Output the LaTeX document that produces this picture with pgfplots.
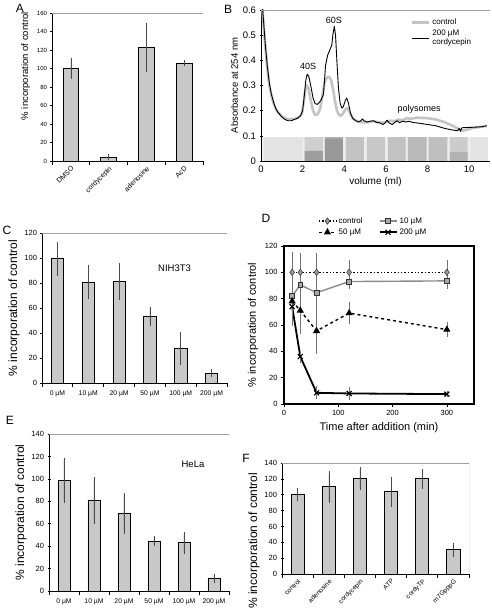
\documentclass[border=0pt]{standalone}
\usepackage{fontspec}
\setmainfont{Liberation Sans}
\usepackage{pgfplots}
\pgfplotsset{compat=1.18}
\definecolor{barfill}{HTML}{C8C8C8}
\definecolor{ebar}{HTML}{4A4A4A}
\definecolor{frame}{HTML}{A0A0A0}
\definecolor{ctrlgray}{HTML}{C4C4C4}
\definecolor{tenline}{HTML}{8C8C8C}
\definecolor{tenfill}{HTML}{A8A8A8}
\pgfplotsset{
  bp/.style={
    scale only axis,
    axis x line*=bottom, axis y line*=left,
    axis line style={-, line width=0.9pt, black},
    ymin=0, xmin=-0.5, xmax=5.5,
    xtick={0,1,2,3,4,5},
    minor xtick={-0.5,0.5,1.5,2.5,3.5,4.5,5.5},
    major x tick style={draw=none},
    minor x tick style={black, line width=0.7pt},
    major y tick style={black, line width=0.6pt},
    tick align=center,
    major tick length=3pt, minor tick length=4pt,
    /pgf/number format/assume math mode=true,
    ybar, bar width=0.4,
  },
  barst/.style={fill=barfill, draw=black, line width=0.8pt,
     error bars/.cd, y dir=both, y explicit,
     error bar style={ebar, line width=0.5pt},
     error mark options={ebar, mark size=2pt, line width=0.5pt}},
}
\begin{document}
\begin{tikzpicture}
\useasboundingbox (0,0) rectangle (492pt,613pt);
% ---------------- A
\begin{axis}[bp, at={(52pt,452pt)}, anchor=south west, width=151pt, height=148pt,
  xmin=-0.5, xmax=3.5, ymax=160, ytick={0,20,...,160}, bar width=0.42,
  xtick={0,1,2,3}, minor xtick={-0.5,0.5,1.5,2.5,3.5},
  xticklabels={DMSO,cordycepin,adenosine,AcD},
  xticklabel style={rotate=45, anchor=north east, font=\fontsize{7}{8}\selectfont, inner sep=1pt},
  yticklabel style={font=\fontsize{6}{7}\selectfont},
  ylabel={\% incorporation of control},
  ylabel style={font=\fontsize{9.5}{10}\selectfont, at={(ticklabel cs:0.64)}}]
\addplot[barst] coordinates {(0,100) +- (0,9) (1,4) +- (0,1) (2,123) +- (0,24.5) (3,106) +- (0,1.5)};
\draw[frame, line width=0.8pt] (rel axis cs:0,1) -- (rel axis cs:1,1) -- (rel axis cs:1,0);
\end{axis}
% ---------------- B
\begin{axis}[scale only axis, at={(261pt,452pt)}, anchor=south west, width=229pt, height=151pt,
  xmin=0, xmax=11, ymin=0, ymax=0.6,
  axis x line*=bottom, axis y line*=left, axis line style={-, line width=0.9pt, black},
  tick align=center, major tick length=3pt, tick style={black, line width=0.6pt},
  xtick={0,2,4,6,8,10}, ytick={0,0.1,0.2,0.3,0.4,0.5,0.6},
  /pgf/number format/assume math mode=true,
  yticklabel style={/pgf/number format/.cd, fixed, precision=1},
  ticklabel style={font=\fontsize{9.5}{10}\selectfont},
  xlabel={volume (ml)}, xlabel style={font=\fontsize{10}{11}\selectfont, yshift=2pt},
  ylabel={Absorbance at 254 nm}, ylabel style={font=\fontsize{9.5}{10}\selectfont, yshift=-2pt},
  legend style={at={(0.64,0.97)}, anchor=north west, draw=none, fill=none,
    font=\fontsize{8}{9}\selectfont, cells={align=left}},
  legend cell align=left]
% gel strip
\addplot[fill=black!7, draw=none, forget plot] coordinates {(0.05,0) (0.05,0.095) (10.9,0.095) (10.9,0)} \closedcycle;
\addplot[fill=black!11, draw=none, forget plot] coordinates {(0.15,0) (0.15,0.095) (2.0,0.095) (2.0,0)} \closedcycle;
\addplot[fill=black!19, draw=none, forget plot] coordinates {(2.1,0) (2.1,0.095) (2.97,0.095) (2.97,0)} \closedcycle;
\addplot[fill=black!38, draw=none, forget plot] coordinates {(2.1,0.005) (2.1,0.04) (2.97,0.04) (2.97,0.005)} \closedcycle;
\addplot[fill=black!32, draw=none, forget plot] coordinates {(3.07,0) (3.07,0.095) (3.93,0.095) (3.93,0)} \closedcycle;
\addplot[fill=black!40, draw=none, forget plot] coordinates {(3.07,0.06) (3.07,0.088) (3.93,0.088) (3.93,0.06)} \closedcycle;
\addplot[fill=black!24, draw=none, forget plot] coordinates {(4.08,0) (4.08,0.095) (4.94,0.095) (4.94,0)} \closedcycle;
\addplot[fill=black!22, draw=none, forget plot] coordinates {(5.08,0) (5.08,0.095) (5.95,0.095) (5.95,0)} \closedcycle;
\addplot[fill=black!24, draw=none, forget plot] coordinates {(6.1,0) (6.1,0.095) (6.95,0.095) (6.95,0)} \closedcycle;
\addplot[fill=black!27, draw=none, forget plot] coordinates {(7.05,0) (7.05,0.095) (7.95,0.095) (7.95,0)} \closedcycle;
\addplot[fill=black!25, draw=none, forget plot] coordinates {(8.05,0) (8.05,0.095) (8.95,0.095) (8.95,0)} \closedcycle;
\addplot[fill=black!20, draw=none, forget plot] coordinates {(9.07,0) (9.07,0.095) (9.93,0.095) (9.93,0)} \closedcycle;
\addplot[fill=black!30, draw=none, forget plot] coordinates {(9.07,0.02) (9.07,0.035) (9.93,0.035) (9.93,0.02)} \closedcycle;
\addplot[fill=black!11, draw=none, forget plot] coordinates {(10.07,0) (10.07,0.095) (10.9,0.095) (10.9,0)} \closedcycle;
% curves
\addplot[ctrlgray, line width=2.6pt, line join=round] coordinates {
(0.03,0.66) (0.1,0.57) (0.2,0.46) (0.3,0.37) (0.4,0.3) (0.5,0.26) (0.6,0.23) (0.7,0.21) (0.8,0.195) (1.0,0.178) (1.2,0.168) (1.4,0.165) (1.6,0.167) (1.8,0.172) (1.95,0.185) (2.05,0.23) (2.12,0.28) (2.2,0.3) (2.28,0.29) (2.38,0.245) (2.5,0.2) (2.6,0.183) (2.72,0.185) (2.85,0.21) (2.95,0.26) (3.05,0.31) (3.15,0.33) (3.25,0.335) (3.35,0.325) (3.45,0.29) (3.55,0.24) (3.65,0.2) (3.75,0.183) (3.85,0.18) (3.95,0.19) (4.05,0.205) (4.15,0.21) (4.25,0.195) (4.4,0.17) (4.6,0.158) (4.8,0.155) (5.0,0.153) (5.2,0.155) (5.4,0.158) (5.6,0.155) (5.8,0.152) (6.0,0.155) (6.2,0.16) (6.4,0.158) (6.6,0.165) (6.8,0.162) (7.0,0.17) (7.2,0.168) (7.5,0.172) (8.0,0.17) (8.4,0.165) (8.8,0.155) (9.2,0.14) (9.5,0.127) (9.7,0.12) (9.9,0.125) (10.2,0.132) (10.6,0.136) (10.85,0.14)};
\addlegendentry{control}
\addplot[black, line width=0.9pt, line join=round] coordinates {
(0.03,0.66) (0.1,0.58) (0.2,0.47) (0.3,0.38) (0.4,0.31) (0.5,0.265) (0.6,0.235) (0.7,0.21) (0.8,0.195) (0.9,0.185) (1.0,0.175) (1.15,0.165) (1.3,0.16) (1.45,0.16) (1.6,0.165) (1.75,0.17) (1.9,0.18) (2.0,0.2) (2.08,0.26) (2.15,0.32) (2.22,0.345) (2.3,0.335) (2.4,0.295) (2.5,0.25) (2.6,0.228) (2.7,0.225) (2.8,0.232) (2.9,0.245) (3.0,0.265) (3.05,0.32) (3.1,0.38) (3.2,0.42) (3.3,0.44) (3.4,0.46) (3.45,0.5) (3.52,0.535) (3.58,0.5) (3.65,0.39) (3.72,0.29) (3.8,0.23) (3.88,0.21) (3.95,0.215) (4.05,0.24) (4.12,0.25) (4.2,0.23) (4.3,0.19) (4.4,0.17) (4.55,0.16) (4.7,0.155) (4.8,0.16) (4.87,0.167) (4.95,0.16) (5.1,0.155) (5.25,0.158) (5.4,0.16) (5.55,0.153) (5.7,0.152) (5.85,0.145) (5.95,0.15) (6.05,0.162) (6.15,0.152) (6.3,0.145) (6.45,0.155) (6.55,0.16) (6.65,0.152) (6.8,0.158) (6.95,0.155) (7.1,0.158) (7.3,0.153) (7.6,0.15) (8.0,0.145) (8.4,0.14) (8.8,0.13) (9.2,0.123) (9.45,0.12) (9.52,0.13) (9.58,0.118) (9.65,0.132) (9.8,0.133) (10.2,0.134) (10.6,0.136) (10.85,0.14)};
\addlegendentry{200 µM\\cordycepin}
\node[font=\fontsize{9}{10}\selectfont] at (axis cs:2.26,0.375) {40S};
\node[font=\fontsize{9}{10}\selectfont] at (axis cs:3.5,0.56) {60S};
\node[font=\fontsize{9}{10}\selectfont] at (axis cs:7.6,0.205) {polysomes};
\draw[frame, line width=0.8pt] (rel axis cs:0,1) -- (rel axis cs:1,1);
\end{axis}
% ---------------- C
\begin{axis}[bp, at={(42pt,230pt)}, anchor=south west, width=185pt, height=150pt,
  ymax=120, ytick={0,20,...,120}, bar width=0.4,
  xticklabels={0 µM,10 µM,20 µM,50 µM,100 µM,200 µM},
  xticklabel style={font=\fontsize{6.8}{7}\selectfont, yshift=-1pt},
  yticklabel style={font=\fontsize{7.5}{8}\selectfont},
  ylabel={\% incorporation of control},
  ylabel style={font=\fontsize{12}{13}\selectfont, yshift=-2pt}]
\addplot[barst] coordinates {(0,100) += (0,11) -= (0,13) (1,80.5) +- (0,12) (2,81) += (0,13) -= (0,13) (3,53) +- (0,6) (4,27.5) +- (0,11.5) (5,8) +- (0,1.5)};
\node[font=\fontsize{9.5}{10}\selectfont] at (axis cs:3.8,92) {NIH3T3};
\draw[frame, line width=0.8pt] (rel axis cs:0,1) -- (rel axis cs:1,1) -- (rel axis cs:1,0);
\end{axis}
% ---------------- D
\begin{axis}[scale only axis, at={(284pt,209pt)}, anchor=south west, width=190pt, height=158pt,
  xmin=0, xmax=350, ymin=0, ymax=120, xtick={0,100,200,300}, ytick={0,20,...,120},
  axis line style={line width=1.2pt}, tick pos=left, tick align=outside,
  major tick length=3pt, tick style={black, line width=0.6pt},
  /pgf/number format/assume math mode=true,
  ticklabel style={font=\fontsize{7.5}{8}\selectfont},
  xlabel={Time after addition (min)}, xlabel style={font=\fontsize{11}{12}\selectfont},
  ylabel={\% incorporation of control}, ylabel style={font=\fontsize{11}{12}\selectfont},
  legend columns=2,
  legend style={at={(0.47,1)}, anchor=south, yshift=6pt, draw=none, fill=none,
    font=\fontsize{8}{9}\selectfont, /tikz/every even column/.append style={column sep=14pt}},
  legend cell align=left]
\addplot[black, dotted, line width=1.4pt, mark=diamond*, mark size=3.2pt,
  mark options={solid, fill=black!40, draw=black!80, line width=0.5pt},
  error bars/.cd, y dir=both, y explicit, error bar style={solid, black!55, line width=0.5pt},
  error mark options={solid, black!55, mark size=2pt, line width=0.5pt}]
  coordinates {(15,100) +- (0,14) (30,100) +- (0,13) (60,100) +- (0,13) (120,100) +- (0,8) (300,100) +- (0,8)};
\addlegendentry{control}
\addplot[tenline, line width=1.4pt, mark=square*, mark size=2.4pt,
  mark options={fill=tenfill, draw=black!80, line width=0.5pt},
  error bars/.cd, y dir=both, y explicit, error bar style={black!55, line width=0.5pt},
  error mark options={black!55, mark size=2pt, line width=0.5pt}]
  coordinates {(15,82) +- (0,4) (30,90.5) +- (0,10) (60,84.5) +- (0,12.5) (120,93) +- (0,4.5) (300,93.5) +- (0,4.5)};
\addlegendentry{10 µM}
\addplot[black, dashed, line width=1.4pt, mark=triangle*, mark size=2.8pt,
  mark options={solid, fill=black},
  error bars/.cd, y dir=both, y explicit, error bar style={solid, black!55, line width=0.5pt},
  error mark options={solid, black!55, mark size=2pt, line width=0.5pt}]
  coordinates {(15,78) +- (0,8) (30,71) +- (0,16) (60,55.5) +- (0,16) (120,69) +- (0,7) (300,56.5) +- (0,4)};
\addlegendentry{50 µM}
\addplot[black, line width=1.8pt, mark=x, mark size=3.5pt,
  mark options={line width=1.2pt},
  error bars/.cd, y dir=both, y explicit, error bar style={black!55, line width=0.5pt},
  error mark options={black!55, mark size=2pt, line width=0.5pt}]
  coordinates {(15,74) +- (0,13) (30,36) +- (0,3) (60,8.5) +- (0,3.5) (120,8) +- (0,3.5) (300,7.5) +- (0,1)};
\addlegendentry{200 µM}
\end{axis}
% ---------------- E
\begin{axis}[bp, at={(49pt,22pt)}, anchor=south west, width=180pt, height=157pt,
  ymax=140, ytick={0,20,...,140}, bar width=0.4,
  xticklabels={0 µM,10 µM,20 µM,50 µM,100 µM,200 µM},
  xticklabel style={font=\fontsize{6.8}{7}\selectfont, yshift=-1pt},
  yticklabel style={font=\fontsize{7.5}{8}\selectfont},
  ylabel={\% incorporation of control},
  ylabel style={font=\fontsize{12}{13}\selectfont, yshift=-2pt}]
\addplot[barst] coordinates {(0,98.5) += (0,18.5) -= (0,18.5) (1,81) += (0,18.5) -= (0,19.5) (2,69) += (0,16.5) -= (0,16) (3,44.5) +- (0,2.5) (4,43) += (0,7.5) -= (0,8) (5,11) +- (0,2.5)};
\node[font=\fontsize{9.5}{10}\selectfont] at (axis cs:4.3,113) {HeLa};
\draw[frame, line width=0.8pt] (rel axis cs:0,1) -- (rel axis cs:1,1) -- (rel axis cs:1,0);
\end{axis}
% ---------------- F
\begin{axis}[bp, at={(282pt,39pt)}, anchor=south west, width=187pt, height=111pt,
  ymax=140, ytick={0,20,...,140}, bar width=0.42,
  xticklabels={control,adenosine,cordycepin,ATP,cordyTP,m7GpppG},
  xticklabel style={rotate=45, anchor=north east, font=\fontsize{6.5}{7}\selectfont, inner sep=1pt},
  yticklabel style={font=\fontsize{7.5}{8}\selectfont},
  ylabel={\% incorporation of control},
  ylabel style={font=\fontsize{12}{13}\selectfont, at={(ticklabel cs:0.3)}, yshift=-2pt}]
\addplot[barst] coordinates {(0,100) +- (0,6) (1,110) += (0,17) -= (0,18) (2,121) += (0,11) -= (0,12) (3,104) += (0,16) -= (0,17) (4,121) += (0,9) -= (0,11) (5,30.5) +- (0,6.5)};
\draw[frame, line width=0.8pt] (rel axis cs:0,1) -- (rel axis cs:1,1) -- (rel axis cs:1,0);
\end{axis}
% panel letters
\node[font=\fontsize{12}{12}\selectfont] at (20pt,605pt) {A};
\node[font=\fontsize{12}{12}\selectfont] at (228pt,604pt) {B};
\node[font=\fontsize{12}{12}\selectfont] at (7pt,383pt) {C};
\node[font=\fontsize{12}{12}\selectfont] at (266pt,395pt) {D};
\node[font=\fontsize{12}{12}\selectfont] at (10pt,193pt) {E};
\node[font=\fontsize{12}{12}\selectfont] at (246pt,155pt) {F};
\end{tikzpicture}
\end{document}
